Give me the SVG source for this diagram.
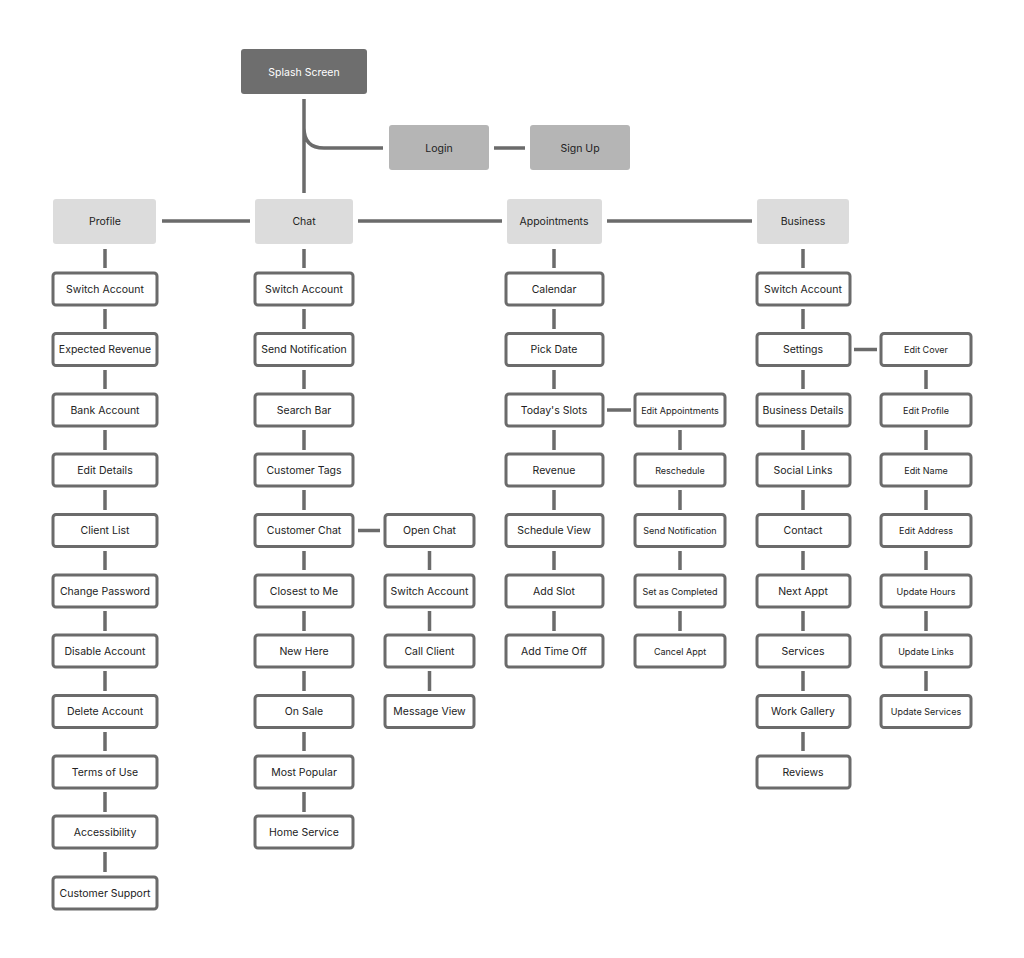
<svg xmlns="http://www.w3.org/2000/svg" width="1024" height="958" viewBox="0 0 1024 958">
<style>
text{font-family:Inter,"Liberation Sans",sans-serif;font-size:10.5px;fill:#222;text-anchor:middle;dominant-baseline:central}
.s text{font-size:9px}
.b{fill:#fff;stroke:#6b6b6b;stroke-width:3}
.h{fill:#dcdcdc}
#conn path{stroke:#6b6b6b;stroke-width:3.5;fill:none}
</style>
<rect width="1024" height="958" fill="#fff"/>
<g id="conn">
<path d="M304 99V193M304 128Q304 148 324 148H383M494 148H525"/>
<path d="M162 221H250M358 221H502M607 221H752"/>
<path d="M358 530.5H380M607 410H631M854 349.5H877"/>
<path d="M105 249V268M105 309V329M105 370V389M105 430V450M105 490V510M105 551V570M105 611V631M105 671V691M105 732V751M105 792V812M105 852V872"/>
<path d="M304 249V268M304 309V329M304 370V389M304 430V450M304 490V510M304 551V570M304 611V631M304 671V691M304 732V751M304 792V812"/>
<path d="M429.5 551V570M429.5 611V631M429.5 671V691"/>
<path d="M554 249V268M554 309V329M554 370V389M554 430V450M554 490V510M554 551V570M554 611V631"/>
<path d="M680 430V450M680 490V510M680 551V570M680 611V631"/>
<path d="M803 249V268M803 309V329M803 370V389M803 430V450M803 490V510M803 551V570M803 611V631M803 671V691M803 732V751"/>
<path d="M926 370V389M926 430V450M926 490V510M926 551V570M926 611V631M926 671V691"/>
</g>
<g id="splash"><rect x="241" y="49" width="126" height="45" rx="3" fill="#6e6e6e"/><text x="304" y="72" style="fill:#fff">Splash Screen</text></g>
<g id="login"><rect x="389" y="125" width="100" height="45" rx="3" fill="#b5b5b5"/><text x="439" y="148">Login</text></g>
<g id="signup"><rect x="530" y="125" width="100" height="45" rx="3" fill="#b5b5b5"/><text x="580" y="148">Sign Up</text></g>
<g id="profile"><rect class="h" x="53" y="199" width="103" height="45" rx="3"/><text x="105" y="221.5">Profile</text></g>
<g id="chat"><rect class="h" x="255" y="199" width="98" height="45" rx="3"/><text x="304" y="221.5">Chat</text></g>
<g id="appointments"><rect class="h" x="507" y="199" width="95" height="45" rx="3"/><text x="554" y="221.5">Appointments</text></g>
<g id="business"><rect class="h" x="757" y="199" width="92" height="45" rx="3"/><text x="803" y="221.5">Business</text></g>

<g id="p1"><rect class="b" x="53" y="273" width="104" height="32" rx="3"/><text x="105" y="289">Switch Account</text></g>
<g id="p2"><rect class="b" x="53" y="333.5" width="104" height="32" rx="3"/><text x="105" y="349.5">Expected Revenue</text></g>
<g id="p3"><rect class="b" x="53" y="394" width="104" height="32" rx="3"/><text x="105" y="410">Bank Account</text></g>
<g id="p4"><rect class="b" x="53" y="454" width="104" height="32" rx="3"/><text x="105" y="470">Edit Details</text></g>
<g id="p5"><rect class="b" x="53" y="514.5" width="104" height="32" rx="3"/><text x="105" y="530.5">Client List</text></g>
<g id="p6"><rect class="b" x="53" y="575" width="104" height="32" rx="3"/><text x="105" y="591">Change Password</text></g>
<g id="p7"><rect class="b" x="53" y="635" width="104" height="32" rx="3"/><text x="105" y="651">Disable Account</text></g>
<g id="p8"><rect class="b" x="53" y="695.5" width="104" height="32" rx="3"/><text x="105" y="711.5">Delete Account</text></g>
<g id="p9"><rect class="b" x="53" y="756" width="104" height="32" rx="3"/><text x="105" y="772">Terms of Use</text></g>
<g id="p10"><rect class="b" x="53" y="816" width="104" height="32" rx="3"/><text x="105" y="832">Accessibility</text></g>
<g id="p11"><rect class="b" x="53" y="877" width="104" height="32" rx="3"/><text x="105" y="893">Customer Support</text></g>

<g id="c1"><rect class="b" x="255" y="273" width="98" height="32" rx="3"/><text x="304" y="289">Switch Account</text></g>
<g id="c2"><rect class="b" x="255" y="333.5" width="98" height="32" rx="3"/><text x="304" y="349.5">Send Notification</text></g>
<g id="c3"><rect class="b" x="255" y="394" width="98" height="32" rx="3"/><text x="304" y="410">Search Bar</text></g>
<g id="c4"><rect class="b" x="255" y="454" width="98" height="32" rx="3"/><text x="304" y="470">Customer Tags</text></g>
<g id="c5"><rect class="b" x="255" y="514.5" width="98" height="32" rx="3"/><text x="304" y="530.5">Customer Chat</text></g>
<g id="c6"><rect class="b" x="255" y="575" width="98" height="32" rx="3"/><text x="304" y="591">Closest to Me</text></g>
<g id="c7"><rect class="b" x="255" y="635" width="98" height="32" rx="3"/><text x="304" y="651">New Here</text></g>
<g id="c8"><rect class="b" x="255" y="695.5" width="98" height="32" rx="3"/><text x="304" y="711.5">On Sale</text></g>
<g id="c9"><rect class="b" x="255" y="756" width="98" height="32" rx="3"/><text x="304" y="772">Most Popular</text></g>
<g id="c10"><rect class="b" x="255" y="816" width="98" height="32" rx="3"/><text x="304" y="832">Home Service</text></g>

<g id="cs1"><rect class="b" x="385" y="514.5" width="89" height="32" rx="3"/><text x="429.5" y="530.5">Open Chat</text></g>
<g id="cs2"><rect class="b" x="385" y="575" width="89" height="32" rx="3"/><text x="429.5" y="591">Switch Account</text></g>
<g id="cs3"><rect class="b" x="385" y="635" width="89" height="32" rx="3"/><text x="429.5" y="651">Call Client</text></g>
<g id="cs4"><rect class="b" x="385" y="695.5" width="89" height="32" rx="3"/><text x="429.5" y="711.5">Message View</text></g>

<g id="a1"><rect class="b" x="506" y="273" width="97" height="32" rx="3"/><text x="554" y="289">Calendar</text></g>
<g id="a2"><rect class="b" x="506" y="333.5" width="97" height="32" rx="3"/><text x="554" y="349.5">Pick Date</text></g>
<g id="a3"><rect class="b" x="506" y="394" width="97" height="32" rx="3"/><text x="554" y="410">Today's Slots</text></g>
<g id="a4"><rect class="b" x="506" y="454" width="97" height="32" rx="3"/><text x="554" y="470">Revenue</text></g>
<g id="a5"><rect class="b" x="506" y="514.5" width="97" height="32" rx="3"/><text x="554" y="530.5">Schedule View</text></g>
<g id="a6"><rect class="b" x="506" y="575" width="97" height="32" rx="3"/><text x="554" y="591">Add Slot</text></g>
<g id="a7"><rect class="b" x="506" y="635" width="97" height="32" rx="3"/><text x="554" y="651">Add Time Off</text></g>

<g class="s">
<g id="as1"><rect class="b" x="635" y="394" width="90" height="32" rx="3"/><text x="680" y="410">Edit Appointments</text></g>
<g id="as2"><rect class="b" x="635" y="454" width="90" height="32" rx="3"/><text x="680" y="470">Reschedule</text></g>
<g id="as3"><rect class="b" x="635" y="514.5" width="90" height="32" rx="3"/><text x="680" y="530.5">Send Notification</text></g>
<g id="as4"><rect class="b" x="635" y="575" width="90" height="32" rx="3"/><text x="680" y="591">Set as Completed</text></g>
<g id="as5"><rect class="b" x="635" y="635" width="90" height="32" rx="3"/><text x="680" y="651">Cancel Appt</text></g>
</g>

<g id="b1"><rect class="b" x="757" y="273" width="93" height="32" rx="3"/><text x="803" y="289">Switch Account</text></g>
<g id="b2"><rect class="b" x="757" y="333.5" width="93" height="32" rx="3"/><text x="803" y="349.5">Settings</text></g>
<g id="b3"><rect class="b" x="757" y="394" width="93" height="32" rx="3"/><text x="803" y="410">Business Details</text></g>
<g id="b4"><rect class="b" x="757" y="454" width="93" height="32" rx="3"/><text x="803" y="470">Social Links</text></g>
<g id="b5"><rect class="b" x="757" y="514.5" width="93" height="32" rx="3"/><text x="803" y="530.5">Contact</text></g>
<g id="b6"><rect class="b" x="757" y="575" width="93" height="32" rx="3"/><text x="803" y="591">Next Appt</text></g>
<g id="b7"><rect class="b" x="757" y="635" width="93" height="32" rx="3"/><text x="803" y="651">Services</text></g>
<g id="b8"><rect class="b" x="757" y="695.5" width="93" height="32" rx="3"/><text x="803" y="711.5">Work Gallery</text></g>
<g id="b9"><rect class="b" x="757" y="756" width="93" height="32" rx="3"/><text x="803" y="772">Reviews</text></g>

<g class="s">
<g id="bs1"><rect class="b" x="881" y="333.5" width="90" height="32" rx="3"/><text x="926" y="349.5">Edit Cover</text></g>
<g id="bs2"><rect class="b" x="881" y="394" width="90" height="32" rx="3"/><text x="926" y="410">Edit Profile</text></g>
<g id="bs3"><rect class="b" x="881" y="454" width="90" height="32" rx="3"/><text x="926" y="470">Edit Name</text></g>
<g id="bs4"><rect class="b" x="881" y="514.5" width="90" height="32" rx="3"/><text x="926" y="530.5">Edit Address</text></g>
<g id="bs5"><rect class="b" x="881" y="575" width="90" height="32" rx="3"/><text x="926" y="591">Update Hours</text></g>
<g id="bs6"><rect class="b" x="881" y="635" width="90" height="32" rx="3"/><text x="926" y="651">Update Links</text></g>
<g id="bs7"><rect class="b" x="881" y="695.5" width="90" height="32" rx="3"/><text x="926" y="711.5">Update Services</text></g>
</g>
</svg>
